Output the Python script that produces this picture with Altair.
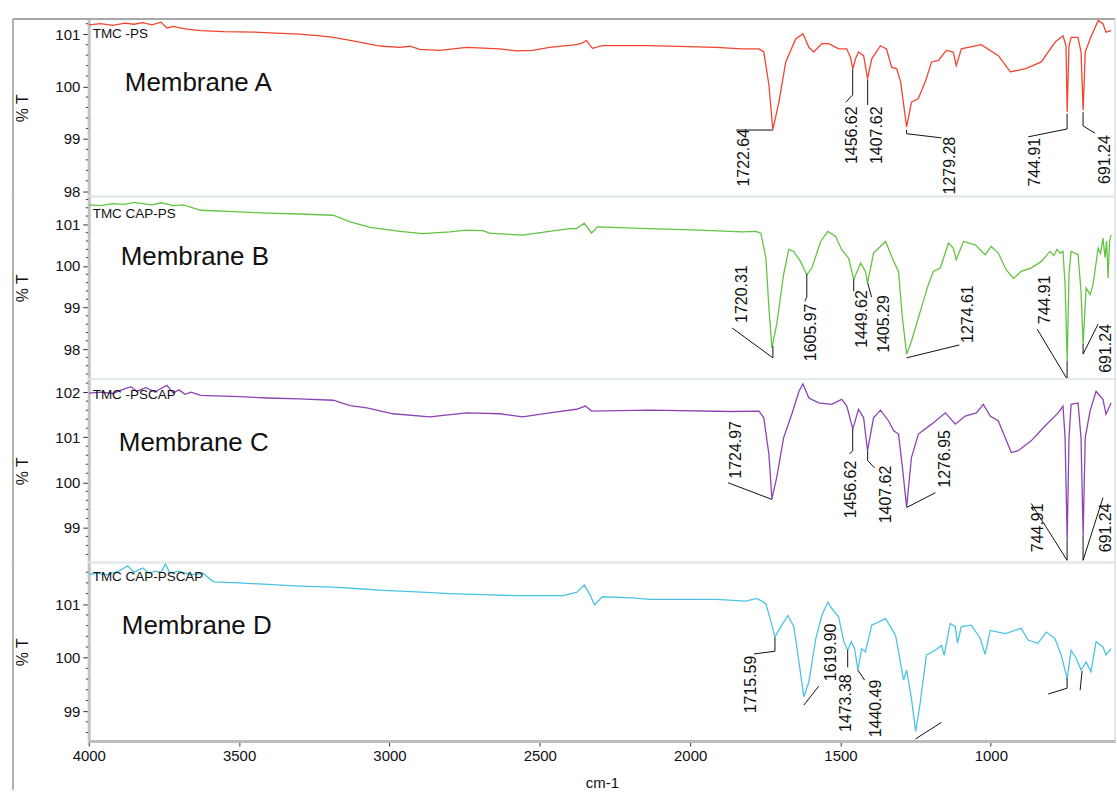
import altair as alt
import pandas as pd
import numpy as np

FONT = "Liberation Sans"
X_DOMAIN = [587, 4000]
PLOT_W = 1029
X_TICKS = [4000, 3500, 3000, 2500, 2000, 1500, 1000]

# ---------------- Panel A : TMC-PS ----------------
A_WN = [4000, 3960, 3920, 3880, 3850, 3820, 3790, 3760, 3740, 3720, 3680, 3628, 3550, 3450, 3380,
        3297, 3230, 3187, 3130, 3075, 3040, 3021, 2965, 2932, 2899, 2833, 2743, 2633, 2578, 2523,
        2468, 2378, 2360, 2345, 2325, 2292, 2136, 1914, 1827, 1771, 1755, 1738, 1725, 1705, 1682,
        1649, 1625, 1605, 1589, 1562, 1539, 1506, 1479, 1467, 1459, 1450, 1440, 1423, 1410, 1396,
        1367, 1347, 1330, 1313, 1300, 1280, 1264, 1241, 1218, 1197, 1174, 1148, 1125, 1115, 1098,
        1032, 975, 935, 886, 832, 786, 760, 750, 746, 740, 733, 710, 700, 693, 686,
        670, 643, 627, 617, 600]
A_T = [101.18, 101.20, 101.17, 101.21, 101.19, 101.22, 101.18, 101.23, 101.12, 101.15, 101.10, 101.07, 101.05, 101.04, 101.02,
       101.00, 100.97, 100.94, 100.88, 100.82, 100.78, 100.77, 100.75, 100.77, 100.71, 100.69, 100.75, 100.72, 100.68, 100.69,
       100.75, 100.80, 100.83, 100.88, 100.73, 100.78, 100.78, 100.75, 100.72, 100.72, 100.66, 100.03, 99.18, 99.70, 100.47,
       100.91, 101.01, 100.75, 100.66, 100.82, 100.82, 100.72, 100.72, 100.56, 100.34, 100.53, 100.66, 100.59, 100.15, 100.53,
       100.78, 100.72, 100.37, 100.34, 100.09, 99.23, 99.70, 99.77, 100.09, 100.47, 100.50, 100.69, 100.66, 100.40, 100.72,
       100.80, 100.59, 100.28, 100.34, 100.47, 100.85, 100.97, 100.78, 99.51, 100.78, 100.94, 100.94, 100.66, 99.55, 100.66,
       100.91, 101.26, 101.20, 101.04, 101.07]
A_LEADERS = [
    [(1724.7, 99.17), (1847.4, 99.17)],
    [(1459.4, 100.33), (1459.4, 99.84), (1482.6, 99.70)],
    [(1409.6, 100.14), (1409.6, 99.65)],
    [(1280.3, 99.17), (1280.3, 99.10), (1164.2, 99.02)],
    [(746.3, 99.48), (746.3, 99.19), (875.6, 99.04)],
    [(693.2, 99.51), (693.2, 99.25), (653.4, 99.11)],
]
A_PEAKS = [("1722.64", 1821.0, 98.09), ("1456.62", 1462.7, 98.52), ("1407.62", 1379.8, 98.52),
           ("1279.28", 1134.3, 97.94), ("744.91", 852.4, 98.09), ("691.24", 620.2, 98.14)]

# ---------------- Panel B : TMC CAP-PS ----------------
B_WN = [4000, 3960, 3920, 3880, 3850, 3820, 3790, 3760, 3720, 3685, 3628, 3500, 3406, 3300, 3187,
        3131, 3075, 3065, 2965, 2889, 2800, 2743, 2690, 2667, 2557, 2468, 2401, 2378, 2352, 2328,
        2308, 2136, 1970, 1827, 1781, 1765, 1748, 1738, 1728, 1712, 1689, 1672, 1656, 1633, 1612,
        1595, 1566, 1542, 1516, 1496, 1473, 1456, 1433, 1417, 1410, 1390, 1350, 1323, 1307, 1294,
        1280, 1264, 1241, 1208, 1191, 1168, 1141, 1125, 1115, 1091, 1052, 1019, 999, 975, 949,
        925, 899, 866, 832, 803, 790, 780, 770, 760, 753, 746, 740, 733, 710, 700,
        693, 683, 670, 660, 643, 635, 627, 620, 615, 610, 605, 600]
B_T = [101.47, 101.45, 101.50, 101.48, 101.53, 101.50, 101.47, 101.52, 101.45, 101.47, 101.34, 101.30, 101.27, 101.25, 101.22,
       101.06, 100.95, 100.93, 100.83, 100.78, 100.82, 100.86, 100.85, 100.79, 100.74, 100.83, 100.90, 100.90, 101.03, 100.79,
       100.94, 100.90, 100.86, 100.82, 100.83, 100.79, 100.19, 98.99, 98.03, 98.60, 99.80, 100.40, 100.35, 100.11, 99.79,
       99.95, 100.59, 100.83, 100.71, 100.39, 100.19, 99.67, 100.07, 99.87, 99.59, 100.31, 100.59, 100.11, 99.87, 98.75,
       97.88, 98.19, 98.75, 99.55, 99.87, 99.95, 100.55, 100.43, 100.15, 100.59, 100.51, 100.27, 100.47, 100.31, 99.91,
       99.70, 99.87, 99.95, 100.11, 100.35, 100.25, 100.40, 100.31, 100.35, 99.55, 97.71, 99.80, 100.35, 100.27, 99.39,
       98.11, 99.47, 99.31, 99.55, 100.43, 100.30, 100.67, 100.20, 100.60, 99.71, 100.60, 100.75]
B_LEADERS = [
    [(1724.7, 98.07), (1724.7, 97.79), (1860.7, 98.51)],
    [(1612.0, 99.80), (1612.0, 99.25), (1618.6, 99.15)],
    [(1456.0, 99.68), (1456.0, 99.39)],
    [(1409.6, 99.59), (1396.4, 99.25)],
    [(1280.3, 97.79), (1104.5, 98.10)],
    [(746.3, 97.71), (746.3, 97.28), (845.8, 98.48)],
    [(693.2, 98.12), (693.2, 97.88), (643.4, 98.60)],
]
B_PEAKS = [("1720.31", 1827.5, 98.63), ("1605.97", 1598.7, 97.71), ("1449.62", 1429.5, 98.03),
           ("1405.29", 1356.6, 97.91), ("1274.61", 1074.6, 98.15), ("744.91", 819.2, 98.60),
           ("691.24", 617.0, 97.43)]

# ---------------- Panel C : TMC-PSCAP ----------------
C_WN = [4000, 3960, 3920, 3890, 3860, 3840, 3810, 3780, 3760, 3740, 3720, 3700, 3680, 3660, 3628,
        3500, 3406, 3300, 3187, 3131, 3075, 3021, 2988, 2866, 2743, 2633, 2557, 2468, 2378, 2348,
        2328, 2136, 1861, 1771, 1755, 1738, 1728, 1712, 1689, 1662, 1638, 1625, 1605, 1572, 1529,
        1496, 1479, 1459, 1440, 1423, 1410, 1390, 1367, 1340, 1323, 1307, 1294, 1280, 1264, 1241,
        1197, 1151, 1118, 1085, 1048, 1025, 1002, 975, 952, 932, 909, 866, 820, 776, 760,
        753, 746, 740, 733, 710, 700, 693, 686, 670, 650, 627, 617, 600]
C_T = [101.98, 102.00, 101.97, 102.05, 102.12, 102.02, 102.10, 102.00, 102.08, 102.15, 101.98, 102.05, 101.95, 102.00, 101.93,
       101.90, 101.87, 101.85, 101.82, 101.70, 101.65, 101.57, 101.52, 101.45, 101.54, 101.52, 101.45, 101.54, 101.62, 101.69,
       101.58, 101.60, 101.57, 101.58, 101.43, 100.62, 99.63, 100.11, 100.99, 101.51, 102.02, 102.18, 101.87, 101.76, 101.73,
       101.84, 101.69, 101.18, 101.62, 101.43, 100.70, 101.43, 101.60, 101.36, 101.14, 101.07, 100.33, 99.45, 100.55, 101.07,
       101.29, 101.54, 101.29, 101.47, 101.54, 101.73, 101.47, 101.36, 100.99, 100.66, 100.70, 100.92, 101.25, 101.54, 101.69,
       100.99, 98.71, 100.99, 101.73, 101.76, 100.99, 98.82, 100.99, 101.58, 102.02, 101.84, 101.51, 101.76]
C_LEADERS = [
    [(1728.0, 99.62), (1874.0, 99.99)],
    [(1459.4, 101.18), (1459.4, 100.70), (1469.3, 100.63)],
    [(1409.6, 100.70), (1409.6, 100.48), (1386.4, 100.32)],
    [(1280.3, 99.44), (1184.1, 99.77)],
    [(746.3, 98.71), (746.3, 98.27), (865.7, 99.53)],
    [(693.2, 98.82), (693.2, 98.27), (627.0, 99.66)],
]
C_PEAKS = [("1724.97", 1847.4, 100.08), ("1456.62", 1466.0, 99.20), ("1407.62", 1350.0, 99.09),
           ("1276.95", 1151.0, 99.88), ("744.91", 842.5, 98.45), ("691.24", 617.0, 98.45)]

# ---------------- Panel D : TMC CAP-PSCAP ----------------
D_WN = [4000, 3970, 3940, 3900, 3870, 3850, 3820, 3800, 3780, 3760, 3745, 3730, 3700, 3660, 3620,
        3585, 3500, 3406, 3300, 3187, 3100, 3021, 2910, 2800, 2690, 2578, 2424, 2378, 2352, 2335,
        2318, 2292, 2192, 2136, 1914, 1814, 1778, 1748, 1731, 1718, 1698, 1675, 1655, 1638, 1622,
        1605, 1582, 1562, 1542, 1529, 1506, 1489, 1476, 1464, 1453, 1442, 1430, 1417, 1396, 1350,
        1317, 1290, 1280, 1264, 1250, 1236, 1214, 1185, 1164, 1155, 1135, 1118, 1111, 1098, 1065,
        1035, 1019, 1002, 952, 899, 876, 843, 816, 787, 766, 746, 733, 716, 700, 683,
        667, 650, 627, 617, 600]
D_T = [101.56, 101.58, 101.55, 101.62, 101.72, 101.60, 101.68, 101.58, 101.62, 101.60, 101.75, 101.58, 101.62, 101.55, 101.58,
       101.42, 101.40, 101.37, 101.34, 101.32, 101.29, 101.26, 101.23, 101.20, 101.18, 101.16, 101.16, 101.22, 101.36, 101.20,
       100.99, 101.14, 101.12, 101.09, 101.09, 101.06, 101.11, 101.01, 100.67, 100.39, 100.58, 100.79, 100.58, 99.92, 99.27,
       99.55, 100.36, 100.79, 101.04, 100.92, 100.76, 100.30, 100.14, 100.30, 100.17, 99.77, 100.17, 100.11, 100.61, 100.73,
       100.42, 99.58, 99.77, 99.24, 98.62, 99.11, 100.05, 100.14, 100.23, 100.05, 100.64, 100.58, 100.27, 100.58, 100.61,
       100.36, 100.06, 100.51, 100.45, 100.55, 100.33, 100.27, 100.48, 100.36, 100.05, 99.61, 100.14, 99.99, 99.77, 99.92,
       99.74, 100.30, 100.20, 100.05, 100.17]
D_LEADERS = [
    [(1718.0, 100.38), (1718.0, 100.12), (1787.7, 100.07)],
    [(1622.0, 99.11), (1572.1, 99.47)],
    [(1476.0, 100.14), (1476.0, 99.82)],
    [(1442.8, 99.77), (1419.6, 99.58)],
    [(1250.4, 98.48), (1164.2, 98.79)],
    [(746.3, 99.62), (746.3, 99.43), (809.3, 99.32)],
    [(696.5, 99.75), (703.1, 99.39)],
]
D_PEAKS = [("1715.59", 1797.7, 98.96), ("1619.90", 1532.3, 99.56),
           ("1473.38", 1482.6, 98.61), ("1440.49", 1383.1, 98.51)]

PANELS = [
    dict(wn=A_WN, t=A_T, leaders=A_LEADERS, peaks=A_PEAKS, color="#f0452f",
         sample=("TMC -PS", 3987, 101.00), membrane=("Membrane A", 3880, 100.07),
         ydom=[97.9, 101.29], height=178),
    dict(wn=B_WN, t=B_T, leaders=B_LEADERS, peaks=B_PEAKS, color="#63c443",
         sample=("TMC CAP-PS", 3987, 101.24), membrane=("Membrane B", 3894, 100.22),
         ydom=[97.28, 101.67], height=183),
    dict(wn=C_WN, t=C_T, leaders=C_LEADERS, peaks=C_PEAKS, color="#8c43b5",
         sample=("TMC -PSCAP", 3987, 101.93), membrane=("Membrane C", 3900, 100.87),
         ydom=[98.22, 102.29], height=184),
    dict(wn=D_WN, t=D_T, leaders=D_LEADERS, peaks=D_PEAKS, color="#4cc3e2",
         sample=("TMC CAP-PSCAP", 3987, 101.51), membrane=("Membrane D", 3890, 100.59),
         ydom=[98.44, 101.78], height=179),
]


def make_panel(p, first, last):
    lo, hi = p["ydom"]
    major = list(range(int(np.ceil(lo)), int(np.floor(hi)) + 1))
    minor = [round(v / 5, 1) for v in range(int(np.ceil(lo * 5)), int(np.floor(hi * 5)) + 1)
             if v % 5 != 0]
    xscale = alt.Scale(domain=X_DOMAIN, reverse=True, nice=False, zero=False)
    yscale = alt.Scale(domain=p["ydom"], nice=False, zero=False)
    if last:
        xaxis = alt.Axis(title="cm-1", values=X_TICKS, format="d", grid=False, labelFlush=False,
                         labelFontSize=15, labelFont=FONT, labelColor="#111", labelPadding=2,
                         titleFont=FONT, titleFontSize=15, titleFontWeight="normal", titleColor="#111",
                         titlePadding=13, tickSize=5, tickColor="#333", domainColor="#bdbdbd",
                         domainWidth=3)
    else:
        xaxis = None
    yaxis = alt.Axis(title="% T", values=major, format="d", grid=False, labelOverlap=False,
                     tickSize=6, tickColor="#333", domainColor="#c4c4c4", domainWidth=3,
                     labelFontSize=15, labelFont=FONT, labelColor="#111", labelPadding=3,
                     titleFont=FONT, titleFontSize=16, titleFontWeight="normal", titleColor="#111",
                     titlePadding=24)

    spec = pd.DataFrame({"wn": p["wn"], "t": p["t"]})
    line = alt.Chart(spec).mark_line(color=p["color"], strokeWidth=1.3, clip=True).encode(
        x=alt.X("wn:Q", scale=xscale, axis=xaxis),
        y=alt.Y("t:Q", scale=yscale, axis=yaxis),
    )

    minor_ticks = alt.Chart(pd.DataFrame({"m": minor})).mark_rule(color="#444", strokeWidth=1).encode(
        x=alt.value(-3), x2=alt.value(-0.5), y=alt.Y("m:Q", scale=yscale))

    rows = []
    for i, seg in enumerate(p["leaders"]):
        for j, (w, t) in enumerate(seg):
            rows.append({"id": i, "seq": j, "wn": w, "t": t})
    leaders = alt.Chart(pd.DataFrame(rows)).mark_line(color="#111", strokeWidth=1).encode(
        x=alt.X("wn:Q", scale=xscale), y=alt.Y("t:Q", scale=yscale),
        detail="id:N", order="seq:Q")

    pk = pd.DataFrame(p["peaks"], columns=["label", "wn", "t"])
    peaks = alt.Chart(pk).mark_text(angle=270, align="left", baseline="middle", fontSize=16,
                                    font=FONT, color="#111").encode(
        x=alt.X("wn:Q", scale=xscale), y=alt.Y("t:Q", scale=yscale), text="label:N")

    sm = pd.DataFrame([p["sample"]], columns=["label", "wn", "t"])
    sample = alt.Chart(sm).mark_text(align="left", baseline="middle", fontSize=13.5, font=FONT,
                                     color="#111").encode(
        x=alt.X("wn:Q", scale=xscale), y=alt.Y("t:Q", scale=yscale), text="label:N")

    mb = pd.DataFrame([p["membrane"]], columns=["label", "wn", "t"])
    membrane = alt.Chart(mb).mark_text(align="left", baseline="middle", fontSize=26, font=FONT,
                                       color="#111").encode(
        x=alt.X("wn:Q", scale=xscale), y=alt.Y("t:Q", scale=yscale), text="label:N")

    one = pd.DataFrame({"k": [0]})
    frame_bottom = 228 if last else p["height"]
    left_frame = alt.Chart(one).mark_rule(color="#b0b0b0", strokeWidth=2).encode(
        x=alt.value(-76), y=alt.value(0), y2=alt.value(frame_bottom))
    layers = [left_frame, line, minor_ticks, leaders, peaks, sample, membrane]
    if first:
        top_frame = alt.Chart(one).mark_rule(color="#a8a8a8", strokeWidth=2).encode(
            x=alt.value(-76), x2=alt.value(PLOT_W), y=alt.value(0))
        layers.append(top_frame)
    return alt.layer(*layers).properties(width=PLOT_W, height=p["height"])


charts = [make_panel(p, i == 0, i == len(PANELS) - 1) for i, p in enumerate(PANELS)]

chart = alt.vconcat(*charts, spacing=0, bounds="flush").resolve_scale(
    x="independent", y="independent").properties(
    padding={"left": 11, "top": 16, "right": 0, "bottom": 0},
    background="white",
).configure_view(stroke="#e3e8eb", strokeWidth=2)

chart.save("out.html", embed_options={"renderer": "svg", "actions": False})
